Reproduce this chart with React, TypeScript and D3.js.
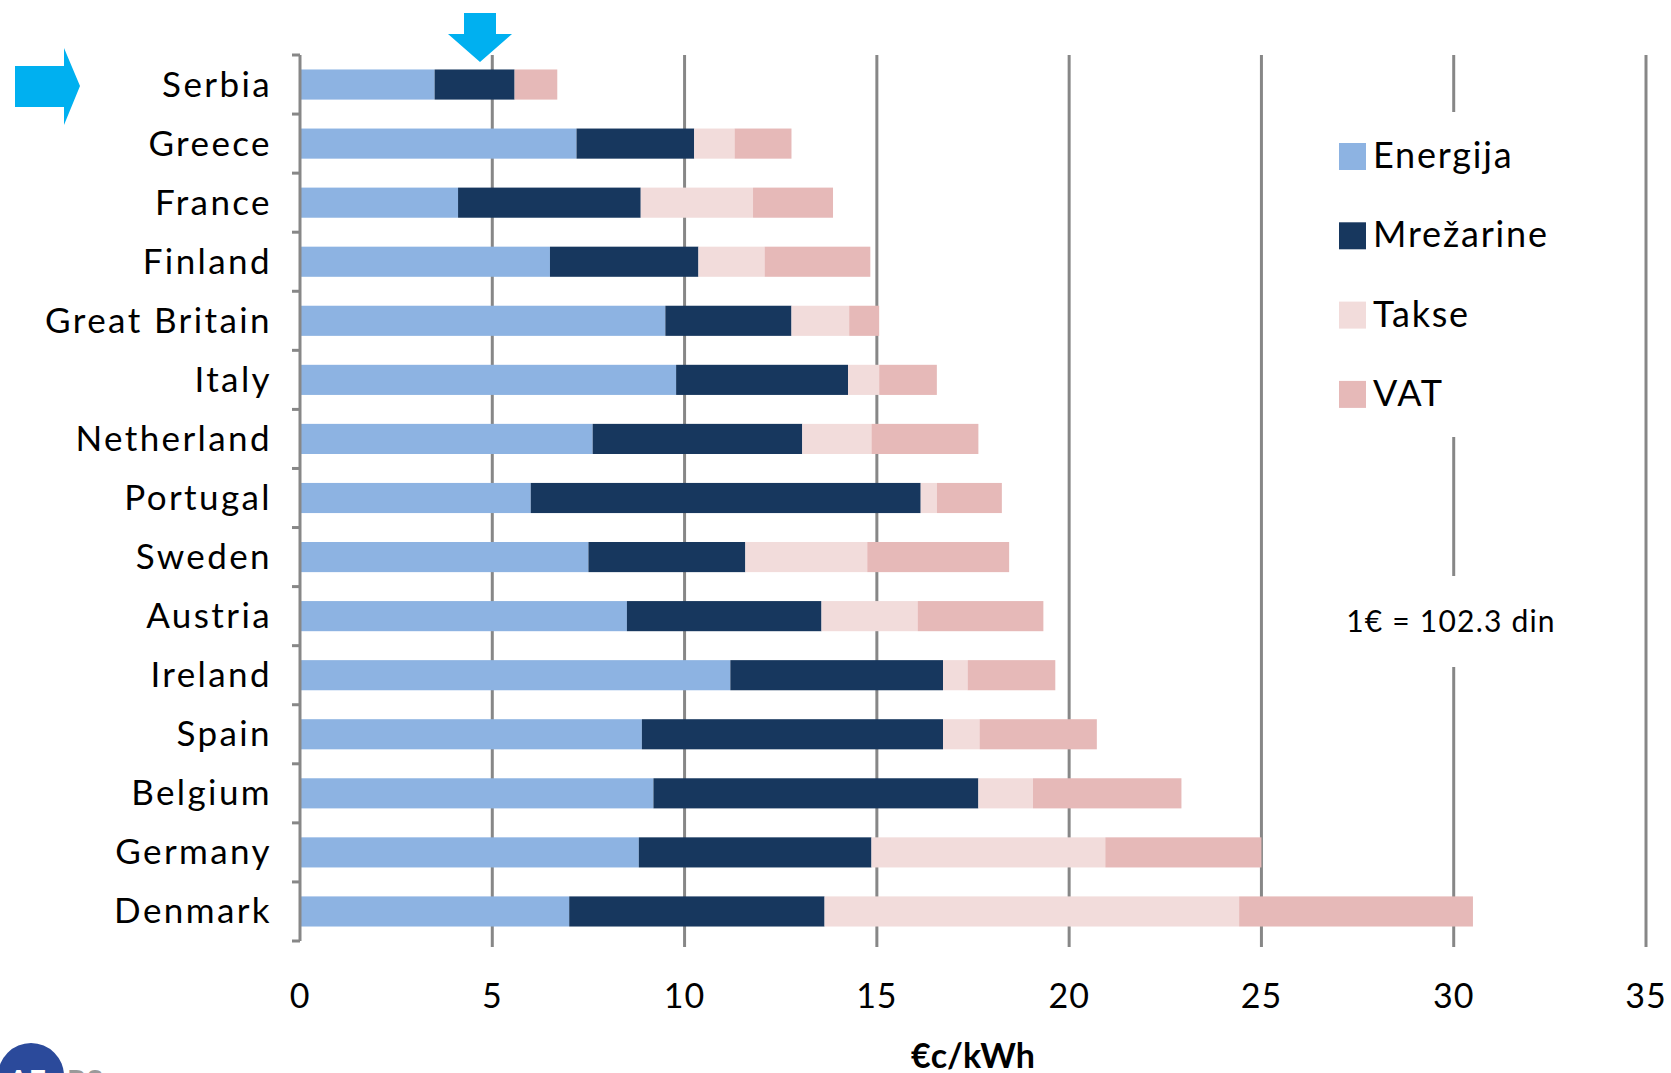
import React from "react";
import * as d3 from "d3";

const categories = ["Serbia","Greece","France","Finland","Great Britain","Italy","Netherland","Portugal","Sweden","Austria","Ireland","Spain","Belgium","Germany","Denmark"];
const energija = [3.5,7.19,4.11,6.5,9.5,9.78,7.61,6.0,7.5,8.5,11.19,8.89,9.19,8.81,7.0];
const mrezarine = [2.08,3.06,4.75,3.86,3.28,4.47,5.45,10.14,4.08,5.06,5.53,7.83,8.45,6.05,6.64];
const takse = [0,1.05,2.92,1.72,1.5,0.81,1.8,0.42,3.17,2.5,0.64,0.95,1.42,6.08,10.78];
const vat = [1.11,1.48,2.08,2.75,0.78,1.5,2.78,1.69,3.69,3.27,2.28,3.05,3.86,4.06,6.08];
const seriesNames = ["Energija","Mrežarine","Takse","VAT"];
const seriesColors = ["#8DB3E2","#17375E","#F2DCDB","#E6B9B8"];
const xTicks = [0,5,10,15,20,25,30,35];

const W = 1671, H = 1073;
const FONT = "Lato, 'Open Sans', sans-serif";

export default function App() {
  const x = d3.scaleLinear().domain([0,35]).range([300,1646]);
  const y = d3.scaleBand<string>().domain(categories).range([55,941]).padding(0);
  const barH = y.bandwidth()*0.51;
  const rows = categories.map((c,i)=>({cat:c, Energija:energija[i], "Mrežarine":mrezarine[i], Takse:takse[i], VAT:vat[i]}));
  const stack = d3.stack<any>().keys(seriesNames)(rows);
  const grid = "#878787";
  return (
    <svg width={W} height={H} style={{position:"absolute",left:0,top:0,background:"#fff"}}>
      <rect x={0} y={0} width={W} height={H} fill="#fff"/>
      {xTicks.filter(t=>t>0).map(t=>(
        <line key={t} x1={x(t)} x2={x(t)} y1={55} y2={947} stroke={grid} strokeWidth={3}/>
      ))}
      <rect x={1330} y={112} width={230} height={325} fill="#fff"/>
      <rect x={1340} y={576} width={220} height={91} fill="#fff"/>
      {stack.map((s,si)=>(
        <g key={si} fill={seriesColors[si]}>
          {s.map((d,i)=>{
            const w = x(d[1])-x(d[0]);
            if (w<=0) return null;
            return <rect key={i} x={x(d[0])} y={(y(categories[i]) as number)+(y.bandwidth()-barH)/2} width={w} height={barH}/>;
          })}
        </g>
      ))}
      <line x1={300} x2={300} y1={55} y2={941} stroke={grid} strokeWidth={3}/>
      {d3.range(categories.length+1).map(i=>{
        const yy = 55 + i*y.step();
        return <line key={i} x1={292} x2={300} y1={yy} y2={yy} stroke={grid} strokeWidth={3}/>;
      })}
      {categories.map(c=>(
        <text key={c} x={272} y={(y(c) as number)+y.bandwidth()/2+12} textAnchor="end" fontFamily={FONT} fontSize={35} letterSpacing={2.4} fill="#000">{c}</text>
      ))}
      {xTicks.map(t=>(
        <text key={t} x={x(t)} y={1008} textAnchor="middle" fontFamily={FONT} fontSize={34} letterSpacing={1} fill="#000">{t}</text>
      ))}
      <text x={973} y={1068} textAnchor="middle" fontFamily={FONT} fontSize={34} fontWeight="bold" fill="#000">€c/kWh</text>
      {seriesNames.map((n,i)=>{
        const cy = 156 + i*79.3;
        return (
          <g key={n}>
            <rect x={1339} y={cy-13} width={27} height={27} fill={seriesColors[i]}/>
            <text x={1373} y={cy+12} fontFamily={FONT} fontSize={36} letterSpacing={1.8} fill="#000">{n}</text>
          </g>
        );
      })}
      <text x={1451} y={632} textAnchor="middle" fontFamily={FONT} fontSize={30} letterSpacing={1.2} fill="#000">1€ = 102.3 din</text>
      <path d="M15,66 L64,66 L64,48 L80,86 L64,125 L64,107 L15,107 Z" fill="#00B0F0"/>
      <path d="M464,13 L496,13 L496,34 L512,34 L480,62 L448,34 L464,34 Z" fill="#00B0F0"/>
      <circle cx={31} cy={1076} r={33} fill="#2B4A9B"/>
      <text x={8} y={1092} fontFamily={FONT} fontSize={30} fontWeight="bold" fill="#fff">AE</text>
      <text x={67} y={1092} fontFamily={FONT} fontSize={30} fontWeight="bold" fill="#9a9a9a">RS</text>
    </svg>
  );
}
